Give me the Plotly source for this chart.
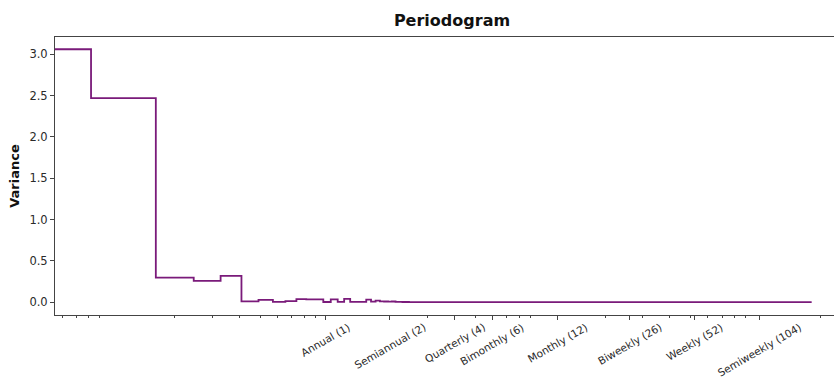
import numpy as np
import plotly.graph_objects as go

# Periodogram bins: spacing in cycles per year, and the Nyquist frequency
FREQ_STEP = 0.0818
NYQUIST = 182.5

# Variance at bins 1, 2, 3, ... (cycles/year = bin * FREQ_STEP)
variance = [3.06, 2.47, 0.30, 0.26, 0.32, 0.012, 0.030, 0.006, 0.015, 0.038,
            0.036, 0.035, 0.004, 0.035, 0.005, 0.042, 0.006, 0.005, 0.006, 0.032,
            0.008, 0.020, 0.012, 0.010, 0.008, 0.010, 0.006, 0.005, 0.004, 0.004]
# Flat remainder of the spectrum up to the Nyquist frequency
tail_variance = 0.003

# Named periods shown on the frequency axis
period_freqs = [1, 2, 4, 6, 12, 26, 52, 104]
period_labels = ["Annual (1)", "Semiannual (2)", "Quarterly (4)", "Bimonthly (6)",
                 "Monthly (12)", "Biweekly (26)", "Weekly (52)", "Semiweekly (104)"]

# Log-scale minor ticks (2..9 per decade), skipping named periods
minor_freqs = [m * 10.0 ** e for e in (-2, -1, 0, 1, 2) for m in range(2, 10)]
minor_freqs = [f for f in minor_freqs if not any(np.isclose(f, p) for p in period_freqs)]

X_RANGE = [-1.2547, 2.365]   # log10 of cycles/year
Y_RANGE = [-0.153, 3.208]

freqs = list(np.arange(1, len(variance) + 1) * FREQ_STEP) + [NYQUIST]
values = list(variance) + [tail_variance]

# The zero-frequency bin lies off the log axis: start the first step at its left edge
x_left = 10 ** X_RANGE[0]
xs = [x_left] + freqs
ys = [values[0]] + values

FONT = "DejaVu Sans"
AXIS_COLOR = "#444444"
TEXT_COLOR = "#2a2a2a"

fig = go.Figure()
fig.add_trace(go.Scatter(
    x=xs, y=ys, mode="lines", line_shape="vh",
    line=dict(color="#7a1a7a", width=1.8),
    showlegend=False, hoverinfo="skip",
))

for f, label in zip(period_freqs, period_labels):
    fig.add_annotation(
        x=np.log10(f), xref="x", y=0, yref="paper",
        text=label, showarrow=False, textangle=-30,
        xanchor="center", yanchor="top", yshift=-3,
        font=dict(family=FONT, size=10.5, color=TEXT_COLOR),
    )

fig.update_layout(
    width=834, height=379,
    margin=dict(l=55, r=0, t=37, b=64),
    paper_bgcolor="white", plot_bgcolor="white",
    font=dict(family=FONT, color=TEXT_COLOR),
    title=dict(text="<b>Periodogram</b>", x=452 / 834, xref="container", xanchor="center",
               y=1 - 20 / 379, yref="container", yanchor="middle",
               font=dict(family=FONT, size=16, color="#111111")),
)

# Bottom spine with ticks, plus a plain top spine
fig.update_xaxes(
    type="log", range=X_RANGE,
    tickmode="array", tickvals=period_freqs, showticklabels=False,
    ticks="outside", ticklen=4, tickwidth=1, tickcolor=AXIS_COLOR,
    minor=dict(tickmode="array", tickvals=minor_freqs, ticks="outside",
               ticklen=2, tickwidth=1, tickcolor=AXIS_COLOR, showgrid=False),
    showgrid=False, zeroline=False,
    showline=True, linecolor=AXIS_COLOR, linewidth=1, mirror=True,
)
fig.update_yaxes(
    range=Y_RANGE,
    tickmode="array", tickvals=[0, 0.5, 1.0, 1.5, 2.0, 2.5, 3.0], tickformat=".1f",
    ticks="outside", ticklen=4, tickwidth=1, tickcolor=AXIS_COLOR,
    tickfont=dict(family=FONT, size=11.5, color=TEXT_COLOR),
    showgrid=False, zeroline=False,
    showline=True, linecolor=AXIS_COLOR, linewidth=1, mirror=False,
    title=dict(text="<b>Variance</b>", standoff=6,
               font=dict(family=FONT, size=13, color="#111111")),
)

fig.write_html("out.html")
